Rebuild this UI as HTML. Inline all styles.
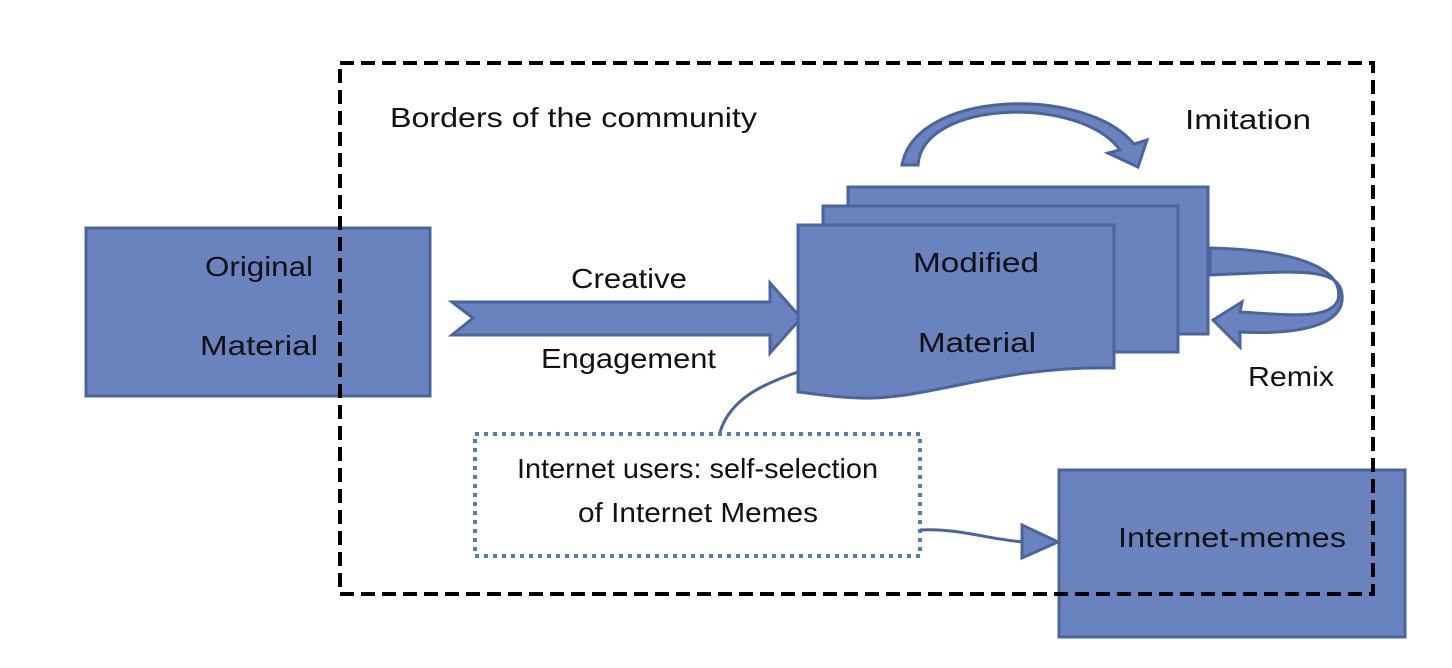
<!DOCTYPE html>
<html><head><style>body{margin:0;background:#fff}svg{display:block}text{font-family:"Liberation Sans",sans-serif;font-size:28px;fill:#111}</style></head>
<body>
<svg width="1452" height="668" viewBox="0 0 1452 668">
<rect x="86" y="228" width="344" height="168" fill="#6a82bd" stroke="#4a649e" stroke-width="3"/>
<text x="205" y="276" textLength="108" lengthAdjust="spacingAndGlyphs">Original</text>
<text x="200" y="355" textLength="118" lengthAdjust="spacingAndGlyphs">Material</text>
<polygon points="452,302 770,302 770,283 801,318 770,353 770,335 452,335 473,318" fill="#6a82bd" stroke="#4a649e" stroke-width="3"/>
<text x="571" y="288" textLength="116" lengthAdjust="spacingAndGlyphs">Creative</text>
<text x="541" y="368" textLength="175" lengthAdjust="spacingAndGlyphs">Engagement</text>
<rect x="848" y="187" width="360" height="147" fill="#6a82bd" stroke="#4a649e" stroke-width="3"/>
<rect x="823" y="206" width="355" height="146" fill="#6a82bd" stroke="#4a649e" stroke-width="3"/>
<path d="M798,225 L1114,225 L1114,368 C1000,365 930,400 860,398 C830,397 810,393 798,392 Z" fill="#6a82bd" stroke="#4a649e" stroke-width="3"/>
<text x="913" y="272" textLength="126" lengthAdjust="spacingAndGlyphs">Modified</text>
<text x="918" y="352" textLength="118" lengthAdjust="spacingAndGlyphs">Material</text>
<path d="M918,165 C922,100 1080,95 1120,150 L1108,153 L1138,167 L1147,140 L1134,144 C1085,85 915,90 902,165 Z" fill="#6a82bd" stroke="#4a649e" stroke-width="3"/>
<path d="M1210,248 C1300,250 1345,270 1338,300 C1330,320 1290,315 1240,312 L1242,302 L1213,320 L1240,347 L1240,332 C1300,335 1345,325 1342,295 C1340,265 1290,272 1210,275 Z" fill="#6a82bd" stroke="#4a649e" stroke-width="3"/>
<text x="1185" y="129" textLength="126" lengthAdjust="spacingAndGlyphs">Imitation</text>
<text x="1248" y="386" textLength="86" lengthAdjust="spacingAndGlyphs">Remix</text>
<path d="M720,432 C730,400 760,385 798,372" fill="none" stroke="#4a649e" stroke-width="3"/>
<rect x="475" y="434" width="445" height="122" fill="#fff" stroke="#5b78be" stroke-width="4" stroke-dasharray="4,5"/>
<text x="517" y="478" textLength="361" lengthAdjust="spacingAndGlyphs">Internet users: self-selection</text>
<text x="578" y="522" textLength="240" lengthAdjust="spacingAndGlyphs">of Internet Memes</text>
<rect x="1059" y="470" width="346" height="167" fill="#6a82bd" stroke="#4a649e" stroke-width="3"/>
<path d="M920,530 C960,528 990,540 1025,542" fill="none" stroke="#4a649e" stroke-width="3"/>
<polygon points="1022,525 1058,542 1022,558" fill="#6a82bd" stroke="#4a649e" stroke-width="3"/>
<text x="1118" y="547" textLength="228" lengthAdjust="spacingAndGlyphs">Internet-memes</text>
<rect x="340" y="63" width="1033" height="531" fill="none" stroke="#000" stroke-width="4" stroke-dasharray="14,7"/>
<text x="390" y="127" textLength="367" lengthAdjust="spacingAndGlyphs">Borders of the community</text>
</svg>
</body></html>
